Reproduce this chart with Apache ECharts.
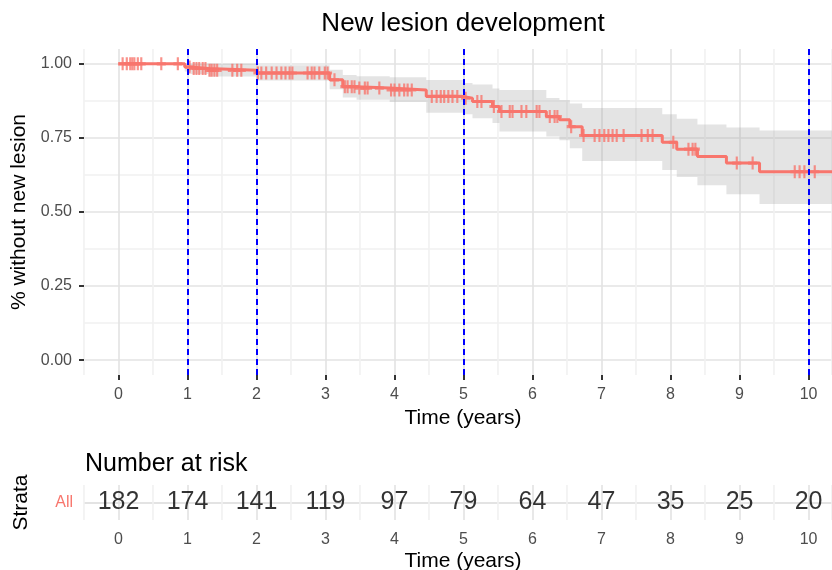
<!DOCTYPE html>
<html>
<head>
<meta charset="utf-8">
<script src="https://cdn.jsdelivr.net/npm/echarts@6/dist/echarts.min.js"></script>
<style>
  html, body { margin: 0; padding: 0; background: #fff; }
  #main { width: 832px; height: 570px; }
</style>
</head>
<body>
<div id="main"></div>
<script>
// Kaplan-Meier steps
const survTimes = [0, 0.96, 1.05, 1.3, 2.0, 3.06, 3.25, 3.45, 3.93, 4.46, 4.99, 5.13, 5.42, 5.52, 6.2, 6.39, 6.54, 6.72, 7.88, 8.09, 8.39, 8.81, 9.29, 10.6]
const survProb = [1.0, 0.989, 0.984, 0.978, 0.969, 0.946, 0.923, 0.918, 0.912, 0.890, 0.884, 0.873, 0.856, 0.839, 0.822, 0.811, 0.788, 0.758, 0.735, 0.712, 0.687, 0.665, 0.636, 0.636]
const ciLower = [1.0, 0.974, 0.966, 0.957, 0.944, 0.914, 0.886, 0.879, 0.871, 0.835, 0.830, 0.816, 0.800, 0.772, 0.755, 0.742, 0.715, 0.672, 0.642, 0.618, 0.590, 0.560, 0.527, 0.527]
const ciUpper = [1.0, 1.0, 1.0, 1.0, 0.995, 0.980, 0.962, 0.958, 0.955, 0.945, 0.935, 0.930, 0.917, 0.912, 0.885, 0.878, 0.866, 0.851, 0.830, 0.815, 0.795, 0.785, 0.775, 0.775]

// censored observations (+ marks)
const censorTimes = [0.06, 0.12, 0.17, 0.20, 0.23, 0.28, 0.33, 0.62, 0.86, 1.03, 1.09, 1.13, 1.17, 1.22, 1.26, 1.32, 1.35, 1.39, 1.43, 1.65, 1.72, 1.78,
  2.02, 2.07, 2.14, 2.22, 2.29, 2.36, 2.42, 2.48, 2.52, 2.74, 2.80, 2.84, 2.91, 2.99, 3.03, 3.13, 3.28, 3.32, 3.38, 3.42, 3.49, 3.57, 3.61, 3.78,
  3.95, 4.00, 4.07, 4.14, 4.19, 4.25, 4.54, 4.61, 4.67, 4.72, 4.78, 4.84, 4.91, 5.03, 5.20, 5.26, 5.44, 5.55, 5.67, 5.71, 5.84, 5.91, 6.06, 6.10,
  6.25, 6.32, 6.36, 6.56, 6.74, 6.90, 6.97, 7.04, 7.10, 7.16, 7.22, 7.32, 7.58, 7.67, 7.74, 8.04, 8.26, 8.32, 8.36, 8.96, 9.19, 9.80, 9.87, 9.94, 10.09]

const refLines = [1, 2, 5, 10]

const riskTimes = [0, 1, 2, 3, 4, 5, 6, 7, 8, 9, 10]
const atRisk = [182, 174, 141, 119, 97, 79, 64, 47, 35, 25, 20]

const xBreaks = [0, 1, 2, 3, 4, 5, 6, 7, 8, 9, 10]
const yBreaks = [0, 0.25, 0.5, 0.75, 1]

const red = '#F8766D'
const major = '#e3e3e3'
const minor = '#f1f1f1'
const font = 'Liberation Sans, Arial, sans-serif'

function survAt (t) {
  let s = survProb[0]
  for (let i = 0; i < survTimes.length; i++) {
    if (survTimes[i] <= t) s = survProb[i]
  }
  return s
}

const chart = echarts.init(document.getElementById('main'))

const xMin = -0.5
const xMax = 10.34

// confidence band as one stepped polygon
function renderBand (params, api) {
  const n = survTimes.length
  const pts = []
  for (let i = 0; i < n - 1; i++) {
    const t0 = Math.min(survTimes[i], xMax)
    const t1 = Math.min(survTimes[i + 1], xMax)
    pts.push(api.coord([t0, ciUpper[i]]))
    pts.push(api.coord([t1, ciUpper[i]]))
  }
  for (let i = n - 2; i >= 0; i--) {
    const t0 = Math.min(survTimes[i], xMax)
    const t1 = Math.min(survTimes[i + 1], xMax)
    pts.push(api.coord([t1, ciLower[i]]))
    pts.push(api.coord([t0, ciLower[i]]))
  }
  return {
    type: 'polygon',
    shape: { points: pts },
    style: { fill: 'rgba(150,150,150,0.26)', stroke: null }
  }
}

chart.setOption({
  animation: false,
  textStyle: { fontFamily: font },
  title: [
    {
      text: 'New lesion development',
      left: 458, top: 6, textAlign: 'center',
      textStyle: { fontSize: 26, fontWeight: 'normal', color: '#000', fontFamily: font }
    },
    {
      text: 'Number at risk',
      left: 80, top: 447,
      textStyle: { fontSize: 25, fontWeight: 'normal', color: '#000', fontFamily: font }
    }
  ],
  grid: [
    { left: 84, right: 0, top: 49, height: 326, outerBoundsMode: 'none' },
    { left: 84, right: 0, top: 485, height: 35, outerBoundsMode: 'none' }
  ],
  xAxis: [
    // visible axis, top panel
    {
      type: 'value', gridIndex: 0, min: xMin, max: xMax,
      name: 'Time (years)', nameLocation: 'middle', nameGap: 32,
      nameTextStyle: { fontSize: 21, color: '#000', fontFamily: font, padding: [0, 0, 0, 10] },
      axisLine: { show: false, onZero: false },
      axisTick: { show: true, customValues: xBreaks, length: 5, lineStyle: { color: '#333', width: 2 } },
      axisLabel: { customValues: xBreaks, margin: 12, fontSize: 16, color: '#4d4d4d', fontFamily: font },
      splitLine: { show: false }
    },
    // grid lines, top panel
    {
      type: 'value', gridIndex: 0, min: xMin, max: xMax, interval: 0.5, position: 'top',
      axisLine: { show: false, onZero: false }, axisTick: { show: false }, axisLabel: { show: false },
      splitLine: { show: true, lineStyle: { color: [minor, major], width: 1.6 } }
    },
    // visible axis, risk table
    {
      type: 'value', gridIndex: 1, min: xMin, max: xMax,
      name: 'Time (years)', nameLocation: 'middle', nameGap: 31,
      nameTextStyle: { fontSize: 21, color: '#000', fontFamily: font, padding: [0, 0, 0, 10] },
      axisLine: { show: false, onZero: false },
      axisTick: { show: false, customValues: xBreaks },
      axisLabel: { customValues: xBreaks, margin: 12, fontSize: 16, color: '#4d4d4d', fontFamily: font },
      splitLine: { show: false }
    },
    // grid lines, risk table
    {
      type: 'value', gridIndex: 1, min: xMin, max: xMax, interval: 0.5, position: 'top',
      axisLine: { show: false, onZero: false }, axisTick: { show: false }, axisLabel: { show: false },
      splitLine: { show: true, lineStyle: { color: [minor, major], width: 1.6 } }
    }
  ],
  yAxis: [
    {
      type: 'value', gridIndex: 0, min: -0.05, max: 1.05,
      name: '% without new lesion', nameLocation: 'middle', nameGap: 52,
      nameTextStyle: { fontSize: 21, color: '#000', fontFamily: font },
      axisLine: { show: false, onZero: false },
      axisTick: { show: true, customValues: yBreaks, length: 5, lineStyle: { color: '#333', width: 2 } },
      axisLabel: { customValues: yBreaks, margin: 12, fontSize: 16, color: '#4d4d4d', fontFamily: font,
        formatter: v => v.toFixed(2) },
      splitLine: { show: false }
    },
    {
      type: 'value', gridIndex: 0, min: -0.05, max: 1.05, interval: 0.025, position: 'right',
      axisLine: { show: false, onZero: false }, axisTick: { show: false }, axisLabel: { show: false },
      splitLine: {
        show: true,
        lineStyle: { width: 1.6, color: ['transparent', 'transparent', major, 'transparent', 'transparent', 'transparent', 'transparent', minor, 'transparent', 'transparent'] }
      }
    },
    {
      type: 'value', gridIndex: 1, min: 0.5, max: 1.5, interval: 0.5,
      name: 'Strata', nameLocation: 'middle', nameGap: 52,
      nameTextStyle: { fontSize: 21, color: '#000', fontFamily: font },
      axisLine: { show: false, onZero: false }, axisTick: { show: false },
      axisLabel: { margin: 11, fontSize: 16, color: red, fontFamily: font,
        formatter: v => (Math.abs(v - 1) < 1e-9 ? 'All' : '') },
      splitLine: { show: true, lineStyle: { color: ['transparent', major], width: 2.2 } }
    }
  ],
  series: [
    {
      name: 'ci', type: 'custom',
      xAxisIndex: 0, yAxisIndex: 0, z: 1, silent: true,
      renderItem: renderBand,
      data: [[0, 1]]
    },
    {
      name: 'survival', type: 'line', step: 'end',
      xAxisIndex: 0, yAxisIndex: 0, symbol: 'none', z: 3,
      lineStyle: { color: red, width: 3 },
      data: survTimes.map((t, i) => [t, survProb[i]]),
      markLine: {
        silent: true, symbol: 'none', label: { show: false },
        lineStyle: { color: '#0000FF', type: [6, 4], width: 2 },
        data: refLines.map(v => ({ xAxis: v }))
      }
    },
    {
      name: 'censor', type: 'scatter',
      xAxisIndex: 0, yAxisIndex: 0, z: 4,
      symbol: 'path://M-1.2,-5L1.2,-5L1.2,-1.2L5,-1.2L5,1.2L1.2,1.2L1.2,5L-1.2,5L-1.2,1.2L-5,1.2L-5,-1.2L-1.2,-1.2Z',
      symbolSize: [9, 13],
      itemStyle: { color: red },
      data: censorTimes.map(t => [t, survAt(t)])
    },
    {
      name: 'risk', type: 'scatter',
      xAxisIndex: 2, yAxisIndex: 2, z: 4,
      symbolSize: 1, itemStyle: { color: 'rgba(0,0,0,0)' },
      label: {
        show: true, position: 'inside', fontSize: 25, color: '#000', fontFamily: font,
        formatter: p => String(p.value[2])
      },
      data: riskTimes.map((t, i) => [t, 1, atRisk[i]])
    }
  ]
})
</script>
</body>
</html>
